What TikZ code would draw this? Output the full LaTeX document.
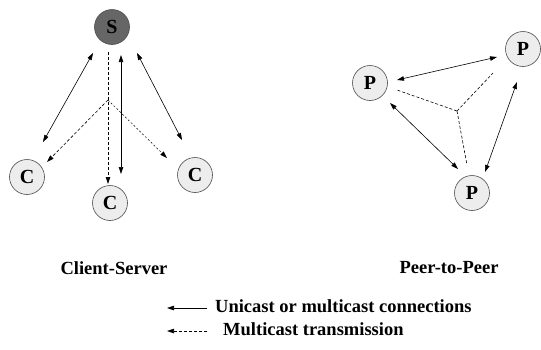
\documentclass[tikz,border=0pt]{standalone}
\usepackage{fontspec}
\setmainfont{Liberation Serif}
\usetikzlibrary{arrows.meta}
\begin{document}
\begin{tikzpicture}[x=1pt,y=-1pt,
  every node/.style={font=\fontsize{18.5}{20}\selectfont\bfseries},
  peer/.style={circle,draw=black!70,line width=0.6pt,fill=black!7,minimum size=35pt,inner sep=0pt,font=\fontsize{20}{22}\selectfont\bfseries},
  srv/.style={circle,draw=black!70,line width=0.6pt,fill=black!60,minimum size=35pt,inner sep=0pt,font=\fontsize{20}{22}\selectfont\bfseries},
  tip/.style={-{Triangle[length=7pt,width=4.5pt]}},
  dtip/.style={{Triangle[length=7pt,width=4.5pt]}-{Triangle[length=7pt,width=4.5pt]}},
  conn/.style={line width=0.6pt},
  mc/.style={line width=0.6pt,dash pattern=on 3pt off 2pt}]
\useasboundingbox (0,0) rectangle (541,349);
% Client-Server
\node[srv] (S) at (112,27) {S};
\node[peer] (C1) at (27,177) {C};
\node[peer] (C2) at (110,203) {C};
\node[peer] (C3) at (195,175) {C};
\coordinate (a1s) at (93,53); \coordinate (a1e) at (43,142);
\coordinate (a2s) at (121,55); \coordinate (a2e) at (121,174);
\coordinate (a3s) at (137,53); \coordinate (a3e) at (182,140);
\draw[conn,dtip] (a1s) -- (a1e);
\draw[conn,dtip] (a2s) -- (a2e);
\draw[conn,dtip] (a3s) -- (a3e);
\coordinate (ds) at (108,52);
\coordinate (br) at (108,100);
\coordinate (d1) at (108,184);
\coordinate (d2) at (47,162);
\coordinate (d3) at (167,158);
\draw[mc,tip] (ds) -- (d1);
\draw[mc,tip] (br) -- (d2);
\draw[line width=0.5pt,dash pattern=on 2pt off 2pt,tip] (br) -- (d3);
% Peer-to-Peer
\node[peer] (P1) at (370,83) {P};
\node[peer] (P2) at (523,49) {P};
\node[peer] (P3) at (472,193) {P};
\coordinate (b1s) at (397,80); \coordinate (b1e) at (497,57);
\coordinate (b2s) at (390,103); \coordinate (b2e) at (458,169);
\coordinate (b3s) at (485,172); \coordinate (b3e) at (517,82);
\draw[conn,dtip] (b1s) -- (b1e);
\draw[conn,dtip] (b2s) -- (b2e);
\draw[conn,dtip] (b3s) -- (b3e);
\coordinate (pc) at (457,111);
\coordinate (q1) at (397,90);
\coordinate (q2) at (493,73);
\coordinate (q3) at (467,165);
\draw[mc] (pc) -- (q1);
\draw[mc] (pc) -- (q2);
\draw[mc] (pc) -- (q3);
% Titles
\node (t1) at (114,268) {Client-Server};
\node (t2) at (449,268) {Peer-to-Peer};
% Legend
\coordinate (l1s) at (207,308); \coordinate (l1e) at (167,308);
\coordinate (l2s) at (207,331); \coordinate (l2e) at (167,331);
\draw[conn,tip] (l1s) -- (l1e);
\draw[mc,tip] (l2s) -- (l2e);
\node[anchor=west,inner sep=0pt] (u) at (215,306) {Unicast or multicast connections};
\node[anchor=west,inner sep=0pt] (m) at (223,329) {Multicast transmission};
\end{tikzpicture}
\end{document}
